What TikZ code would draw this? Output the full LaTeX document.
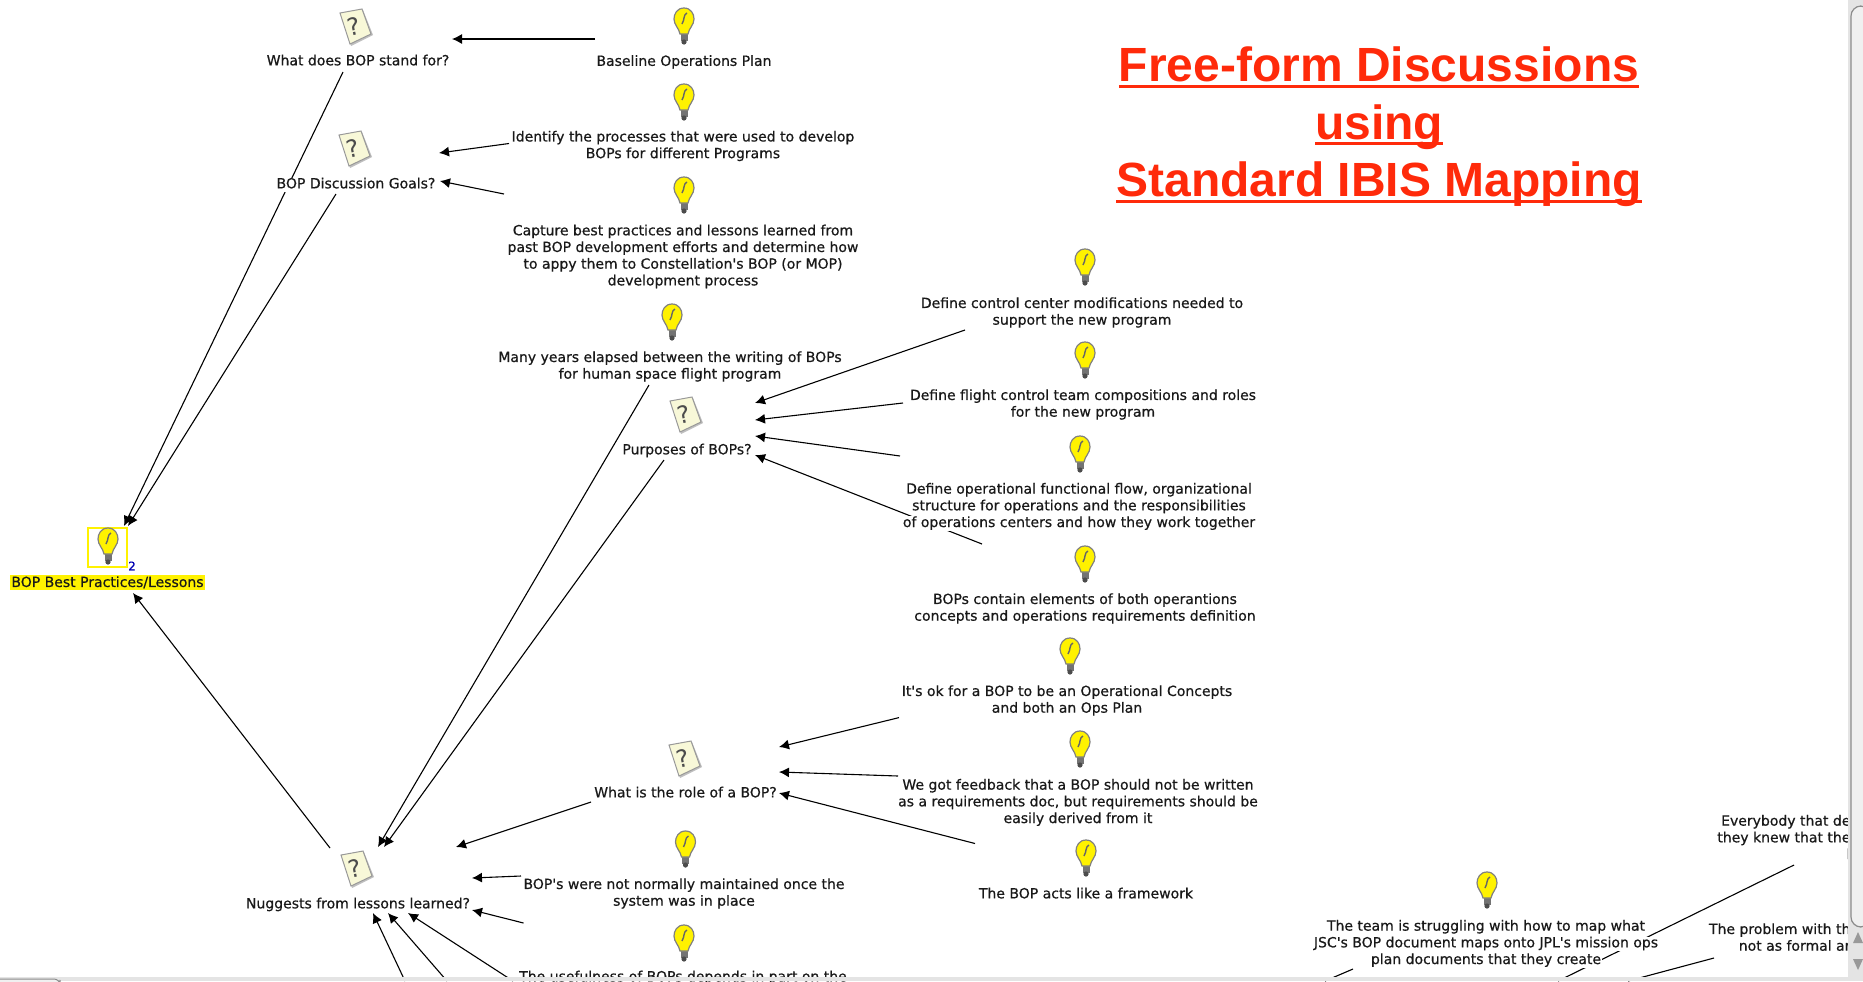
\documentclass[tikz,border=0pt]{standalone}
\usepackage{fontspec}
\usetikzlibrary{arrows.meta}
\setmainfont{DejaVu Sans}
\newfontfamily\mapfont[FakeBold=0.6]{DejaVu Sans}
\newfontfamily\headfont{Liberation Sans}[BoldFont={Liberation Sans Bold}]
\definecolor{headred}{HTML}{FF2A0A}
\definecolor{sheet}{HTML}{F8F8D8}
\definecolor{barback}{HTML}{E4E4E4}
\newcommand{\headrule}[1]{\setbox0=\hbox{#1}\rlap{\copy0}\rlap{\raisebox{-3pt}{\rule{\wd0}{1.5pt}}}\hbox to \wd0{}}
\newcommand{\rowfill}[1]{{\fboxsep=0pt\colorbox{white}{\rule[-1.8pt]{0pt}{6.3pt}\kern0.6pt#1\kern0.6pt}}}
\tikzset{
  mapnote/.style={inner sep=0pt, yshift=-0.4pt, align=center, text=black!90, font=\mapfont\fontsize{7}{8.35}\selectfont},
  maplink/.style={line width=0.55pt, -{Latex[length=5pt,width=5pt]}},
  pics/bulb/.style={code={
    \fill[black!55] (-3.5,8) rectangle (3.5,15);
    \fill[black!70] (0,16) circle (2.6);
    \draw[black!50, fill=yellow, line width=0.6pt] (0,-18) .. controls (-7,-18) and (-10,-12) .. (-10,-7) .. controls (-10,-1) and (-5,2) .. (-4,8) -- (4,8) .. controls (5,2) and (10,-1) .. (10,-7) .. controls (10,-12) and (7,-18) .. (0,-18) -- cycle;
    \draw[black!60, line width=0.7pt] (3,-13) .. controls (-1,-11) and (1,-7) .. (-2,-2);
  }},
  pics/quest/.style={code={
    \fill[black!25] (-12,-12) -- (10,-16) -- (20,9) -- (-2,20) -- cycle;
    \draw[black!40, fill=sheet, line width=0.5pt] (-13,-13) -- (9,-17) -- (18,8) -- (-3,18) -- cycle;
    \node[rotate=12, text=black!70, font=\fontsize{12}{12}\selectfont] (-mark) at (1,0) {?};
  }}
}
\begin{document}
\begin{tikzpicture}[x=0.5pt, y=-0.5pt]
\useasboundingbox (0,0) rectangle (1863,981);

\coordinate (baseOut) at (595,39); % Baseline Operations Plan
\coordinate (standIn) at (452,39);
\coordinate (identOut) at (509,143.5); % Identify
\coordinate (goalsInA) at (439,153);
\coordinate (captOut) at (504,194); % Capture
\coordinate (goalsInB) at (440,181);
\coordinate (standOut) at (343,72); % stand for, down to the root
\coordinate (rootInA) at (124,526);
\coordinate (goalsOut) at (336,194);
\coordinate (rootInB) at (128,526);
\coordinate (nugOut) at (330,848); % Nuggests up to the root
\coordinate (rootInC) at (133,593);
\coordinate (yearsOut) at (649,385); % Many years
\coordinate (nugInA) at (378,847);
\coordinate (purpOut) at (664,460); % Purposes
\coordinate (nugInB) at (384,847);
\coordinate (roleOut) at (591,802); % role of a BOP
\coordinate (nugInC) at (456,847);
\coordinate (maintOut) at (521,876); % not maintained
\coordinate (nugInD) at (472,878);
\coordinate (usefOut) at (523.5,923); % usefulness
\coordinate (nugInE) at (472,910);
\coordinate (lowOutA) at (405,981); % the three from below the window
\coordinate (nugInF) at (373,913);
\coordinate (lowOutB) at (447,981);
\coordinate (nugInG) at (388,913);
\coordinate (lowOutC) at (513,981);
\coordinate (nugInH) at (408,913);
\coordinate (ctrlOut) at (965,330); % into Purposes
\coordinate (purpInA) at (755,403);
\coordinate (flightOut) at (903,403);
\coordinate (purpInB) at (755,420);
\coordinate (funcOut) at (900,456);
\coordinate (purpInC) at (755,436);
\coordinate (elemOut) at (982,544);
\coordinate (purpInD) at (755,455);
\coordinate (okOut) at (899,717.6); % into role
\coordinate (roleInA) at (779,747);
\coordinate (feedOut) at (898,776);
\coordinate (roleInB) at (779,772);
\coordinate (frameOut) at (975,843.5);
\coordinate (roleInC) at (779,793);
\coordinate (everyOut) at (1794,865); % bottom right corner
\coordinate (everyEnd) at (1558,981);
\coordinate (probOut) at (1714,958);
\coordinate (probEnd) at (1628,981);
\coordinate (teamOut) at (1353,969);
\coordinate (teamEnd) at (1325,981);

\draw[maplink] (baseOut) -- (standIn);
\draw[maplink] (identOut) -- (goalsInA);
\draw[maplink] (captOut) -- (goalsInB);
\draw[maplink] (standOut) -- (rootInA);
\draw[maplink] (goalsOut) -- (rootInB);
\draw[maplink] (nugOut) -- (rootInC);
\draw[maplink] (yearsOut) -- (nugInA);
\draw[maplink] (purpOut) -- (nugInB);
\draw[maplink] (roleOut) -- (nugInC);
\draw[maplink] (maintOut) -- (nugInD);
\draw[maplink] (usefOut) -- (nugInE);
\draw[maplink] (lowOutA) -- (nugInF);
\draw[maplink] (lowOutB) -- (nugInG);
\draw[maplink] (lowOutC) -- (nugInH);
\draw[maplink] (ctrlOut) -- (purpInA);
\draw[maplink] (flightOut) -- (purpInB);
\draw[maplink] (funcOut) -- (purpInC);
\draw[maplink] (elemOut) -- (purpInD);
\draw[maplink] (okOut) -- (roleInA);
\draw[maplink] (feedOut) -- (roleInB);
\draw[maplink] (frameOut) -- (roleInC);
\draw[line width=0.55pt] (everyOut) -- (everyEnd);
\draw[line width=0.55pt] (probOut) -- (probEnd);
\draw[line width=0.55pt] (teamOut) -- (teamEnd);

\node[mapnote, fill=yellow, inner sep=0.8pt] (root) at (107.5,581.5) {BOP Best Practices/Lessons}; % the root, with its box
\draw[yellow, line width=0.8pt] (88,528) rectangle (127,567);
\node[text=blue!70!black, inner sep=0pt, font=\mapfont\fontsize{6}{6}\selectfont] (rootCount) at (132,566) {2};

\node[mapnote] (stand) at (358,61) {\rowfill{What does BOP stand for?}};
\node[mapnote] (goals) at (356,184) {\rowfill{BOP Discussion Goals?}};
\node[mapnote] (nug) at (358,904) {\rowfill{Nuggests from lessons learned?}};
\node[mapnote] (base) at (684,61.5) {\rowfill{Baseline Operations Plan}};
\node[mapnote] (ident) at (683,145.5) {\rowfill{Identify the processes that were used to develop}\\\rowfill{BOPs for different Programs}};
\node[mapnote] (capt) at (683,256) {\rowfill{Capture best practices and lessons learned from}\\\rowfill{past BOP development efforts and determine how}\\\rowfill{to appy them to Constellation's BOP (or MOP)}\\\rowfill{development process}};
\node[mapnote] (years) at (670,366) {\rowfill{Many years elapsed between the writing of BOPs}\\\rowfill{for human space flight program}};
\node[mapnote] (purp) at (687,450) {\rowfill{Purposes of BOPs?}};
\node[mapnote] (role) at (685.5,793) {\rowfill{What is the role of a BOP?}};
\node[mapnote] (maint) at (684,893) {\rowfill{BOP's were not normally maintained once the}\\\rowfill{system was in place}};
\node[mapnote] (usef) at (683,977) {\rowfill{The usefulness of BOPs depends in part on the}};
\node[mapnote] (ctrl) at (1082,312) {\rowfill{Define control center modifications needed to}\\\rowfill{support the new program}};
\node[mapnote] (flight) at (1083,404) {\rowfill{Define flight control team compositions and roles}\\\rowfill{for the new program}};
\node[mapnote] (func) at (1079,506) {\rowfill{Define operational functional flow, organizational}\\\rowfill{structure for operations and the responsibilities}\\\rowfill{of operations centers and how they work together}};
\node[mapnote] (elem) at (1085,608) {\rowfill{BOPs contain elements of both operantions}\\\rowfill{concepts and operations requirements definition}};
\node[mapnote] (ok) at (1067,700) {\rowfill{It's ok for a BOP to be an Operational Concepts}\\\rowfill{and both an Ops Plan}};
\node[mapnote] (feed) at (1078,802) {\rowfill{We got feedback that a BOP should not be written}\\\rowfill{as a requirements doc, but requirements should be}\\\rowfill{easily derived from it}};
\node[mapnote] (frame) at (1086,894) {\rowfill{The BOP acts like a framework}};
\node[mapnote] (team) at (1486,943) {\rowfill{The team is struggling with how to map what}\\\rowfill{JSC's BOP document maps onto JPL's mission ops}\\\rowfill{plan documents that they create}};
\node[mapnote, align=right, anchor=east] (every) at (1852,838) {\rowfill{Everybody that de}\\\rowfill{they knew that the}\\\rowfill{l}};
\node[mapnote, align=right, anchor=east] (prob) at (1852,938) {\rowfill{The problem with th}\\\rowfill{not as formal ar}};

\pic (bulbRoot) at (108,546) {bulb};
\pic (bulbBase) at (684,26) {bulb};
\pic (bulbIdent) at (684,102) {bulb};
\pic (bulbCapt) at (684,195) {bulb};
\pic (bulbYears) at (672,322) {bulb};
\pic (bulbCtrl) at (1085,267) {bulb};
\pic (bulbFlight) at (1085,360) {bulb};
\pic (bulbFunc) at (1080,454) {bulb};
\pic (bulbElem) at (1085,564) {bulb};
\pic (bulbOk) at (1070,656) {bulb};
\pic (bulbFeed) at (1080,749) {bulb};
\pic (bulbFrame) at (1086,858) {bulb};
\pic (bulbMaint) at (685.5,849) {bulb};
\pic (bulbUsef) at (684,943) {bulb};
\pic (bulbTeam) at (1487,890) {bulb};
\pic (questStand) at (353,26) {quest};
\pic (questGoals) at (352,148) {quest};
\pic (questPurp) at (683,414) {quest};
\pic (questRole) at (682,758) {quest};
\pic (questNug) at (354,868) {quest};

\node[text=headred, align=center, inner sep=0pt, font=\headfont\bfseries\fontsize{24}{28.8}\selectfont] (title) at (1379,127) {\headrule{Free-form Discussions}\\\headrule{using}\\\headrule{Standard IBIS Mapping}}; % heading

\fill[barback] (1848,0) rectangle (1863,981); % window scroll bars
\draw[black!45, fill=black!6, rounded corners=5pt, line width=0.6pt] (1851,6) rectangle (1870,927);
\fill[black!40] (1858,932) -- (1853,943) -- (1863,943) -- cycle;
\fill[black!40] (1858,970) -- (1853,959) -- (1863,959) -- cycle;
\fill[barback] (0,976.5) rectangle (1848,981);
\draw[black!45, fill=black!6, rounded corners=3pt, line width=0.5pt] (-5,979) rectangle (60,986);
\end{tikzpicture}
\end{document}
